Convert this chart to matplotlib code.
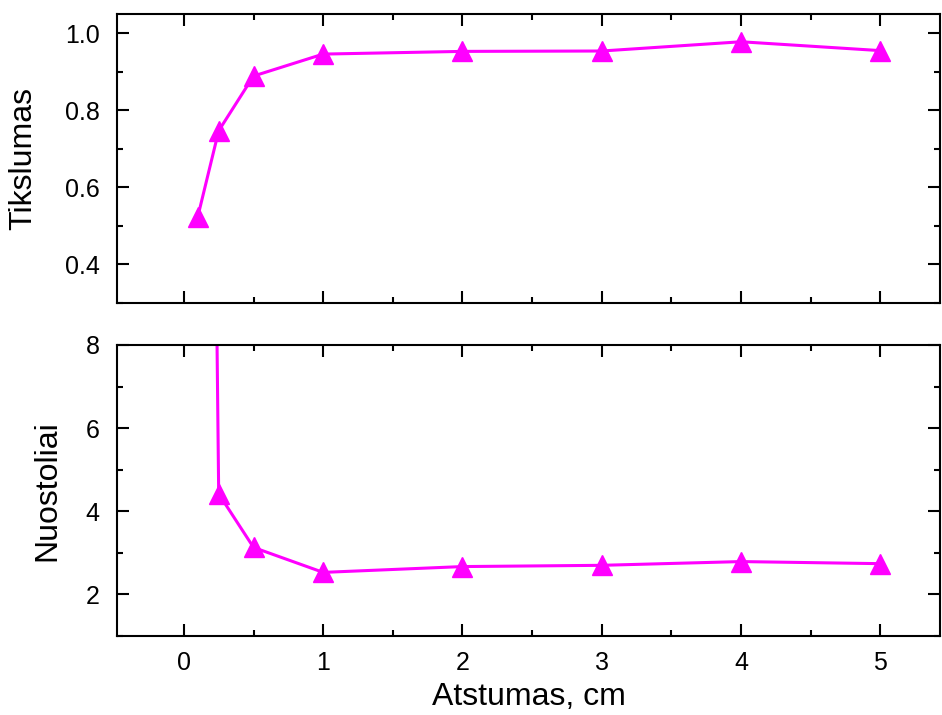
import matplotlib
matplotlib.use("Agg")
import matplotlib.pyplot as plt
from matplotlib.ticker import MultipleLocator

# atstumas (cm) ir matavimu rezultatai
distance = [0.1, 0.25, 0.5, 1, 2, 3, 4, 5]
accuracy = [0.524, 0.747, 0.889, 0.946, 0.953, 0.954, 0.978, 0.955]
losses = [50.0, 4.42, 3.13, 2.53, 2.67, 2.70, 2.79, 2.74]

plt.rcParams['font.family'] = ['Liberation Sans', 'DejaVu Sans']

COLOR = '#ff00ff'


def style_axes(ax, major_y, minor_y):
   ax.xaxis.set_major_locator(MultipleLocator(1))
   ax.xaxis.set_minor_locator(MultipleLocator(0.5))
   ax.yaxis.set_major_locator(MultipleLocator(major_y))
   ax.yaxis.set_minor_locator(MultipleLocator(minor_y))
   ax.tick_params(which='both', direction='in', top=True, right=True, width=1.5,
                  labelsize=18)
   ax.tick_params(axis='y', pad=12.5)
   ax.tick_params(axis='x', pad=11)
   ax.tick_params(which='major', length=8.5)
   ax.tick_params(which='minor', length=4.5)
   for s in ax.spines.values():
      s.set_linewidth(1.5)


fig = plt.figure(figsize=(9.42, 7.15), dpi=100)
ax1 = fig.add_axes([0.1242, 0.5762, 0.874, 0.4042])
ax2 = fig.add_axes([0.1242, 0.1105, 0.874, 0.407])

##Top panel: accuracy
ax1.plot(distance, accuracy, color=COLOR, lw=2.2, marker='^', markersize=14,
         markeredgecolor=COLOR)
ax1.set_xlim(-0.48, 5.43)
ax1.set_ylim(0.3, 1.05)
style_axes(ax1, 0.2, 0.1)
ax1.set_yticks([0.4, 0.6, 0.8, 1.0])
ax1.set_yticklabels(['0.4', '0.6', '0.8', '1.0'])
ax1.tick_params(labelbottom=False)
ax1.set_ylabel('Tikslumas', fontsize=23)
ax1.yaxis.set_label_coords(-0.096, 0.5)

##Bottom panel: losses
ax2.plot(distance, losses, color=COLOR, lw=2.2, marker='^', markersize=14,
         markeredgecolor=COLOR)
ax2.set_xlim(-0.48, 5.43)
ax2.set_ylim(1, 8)
style_axes(ax2, 2, 1)
ax2.set_ylabel('Nuostoliai', fontsize=23)
ax2.yaxis.set_label_coords(-0.066, 0.5)
ax2.set_xlabel('Atstumas, cm', fontsize=23, labelpad=5)

fig.savefig('out.png', dpi=100)
